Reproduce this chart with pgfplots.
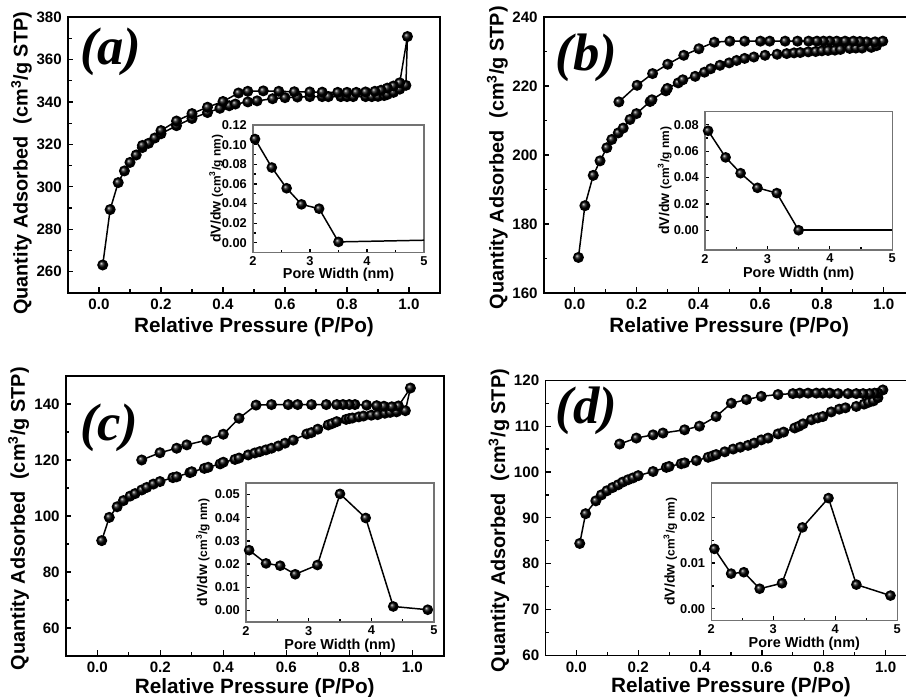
\documentclass[border=0pt]{standalone}
\usepackage{fontspec}
\setmainfont{Liberation Sans}[BoldFont={Liberation Sans Bold}]
\newfontfamily\panelfont{Liberation Serif}
\usepackage{pgfplots}
\pgfplotsset{compat=1.18}

\pgfplotsset{
  common/.style={
    scale only axis, anchor=south west, clip=false,
    tick pos=left, tick align=inside,
    scaled ticks=false,
    /pgf/number format/assume math mode=true,
    every tick/.style={black, line width=0.7pt},
  },
  mainax/.style={
    common,
    xmin=-0.1, xmax=1.1,
    xtick={0,0.2,...,1.0},
    minor x tick num=1, minor y tick num=1,
    major tick length=0.11cm, minor tick length=0.07cm,
    axis line style={line width=0.9pt},
    tick label style={font=\fontsize{8.6}{10}\selectfont\bfseries},
    xticklabel style={/pgf/number format/fixed, /pgf/number format/fixed zerofill, /pgf/number format/precision=1},
    xlabel={Relative Pressure (P/Po)},
    ylabel={Quantity Adsorbed\hspace{0.6em}(cm\textsuperscript{3}/g STP)},
    every axis x label/.style={at={(rel axis cs:0.5,-0.122)}, anchor=center, font=\fontsize{11.8}{12}\selectfont\bfseries},
    every axis y label/.style={at={(rel axis cs:-0.125,0.49)}, anchor=center, rotate=90, font=\fontsize{11.3}{12}\selectfont\bfseries},
  },
  inset/.style={
    common,
    xmin=2, xmax=5, xtick={2,3,4,5},
    minor x tick num=1, minor y tick num=1,
    major tick length=0.08cm, minor tick length=0.05cm,
    axis line style={line width=0.6pt, black!55},
    tick label style={font=\fontsize{7.3}{8}\selectfont\bfseries},
    xticklabel style={yshift=1.2pt},
    yticklabel style={/pgf/number format/fixed, /pgf/number format/fixed zerofill, /pgf/number format/precision=2},
    xlabel={Pore Width (nm)},
    ylabel={dV/dw {\fontsize{6.8}{7}\selectfont(cm\textsuperscript{3}/g nm)}},
    every axis x label/.style={at={(rel axis cs:0.5,-0.172)}, anchor=center, font=\fontsize{8.2}{9}\selectfont\bfseries},
  },
  iylab/.style={every axis y label/.style={at={(rel axis cs:#1,0.5)}, anchor=center, rotate=90, font=\fontsize{8}{9}\selectfont\bfseries}},
  iso/.style={black, line width=0.85pt, mark=ball, mark size=2.7pt, mark options={ball color=black}},
  psd/.style={black, line width=0.85pt, mark=ball, mark size=2.6pt, mark options={ball color=black}},
}

\begin{document}
\begin{tikzpicture}
\useasboundingbox (0,0) rectangle (18.12,13.94);

% ---------------- (a)
\begin{axis}[mainax, at={(1.36cm,8.08cm)}, width=7.44cm, height=5.52cm,
  ymin=250, ymax=380, ytick={260,280,...,380},
  every axis y label/.append style={at={(rel axis cs:-0.125,0.47)}}]
\addplot[iso] coordinates {
(0.012,263.2) (0.036,289.3) (0.062,302) (0.082,307.5) (0.10,311.5) (0.12,315)
(0.14,318.5) (0.16,320.5) (0.18,323) (0.20,325) (0.25,328.8) (0.30,332.2)
(0.35,335) (0.39,337) (0.42,338.2) (0.44,339) (0.48,340) (0.51,340.5)
(0.56,341.5) (0.60,342) (0.64,342.3) (0.68,342.5) (0.72,342.5) (0.74,342.5)
(0.78,342.5) (0.80,342.5) (0.82,342.5) (0.86,342.5) (0.88,342.5) (0.90,342.6)
(0.92,343) (0.93,343.5) (0.95,344.5) (0.97,346) (0.99,347.8) (0.995,370.8)
(0.97,349) (0.95,347.5) (0.93,346.5) (0.91,345.5) (0.89,345) (0.86,344.7)
(0.83,344.5) (0.80,344.5) (0.77,344.5) (0.72,344.6) (0.68,344.7) (0.63,344.8)
(0.58,345) (0.53,345.2) (0.48,345) (0.45,344.2) (0.40,340.2) (0.35,337.5)
(0.30,334.5) (0.25,331) (0.20,326.5) (0.14,319.5)};
\node[font=\panelfont\bfseries\itshape\fontsize{30}{30}\selectfont] at (rel axis cs:0.115,0.873) {(a)};
\end{axis}
\begin{axis}[inset, iylab=-0.215, at={(5.06cm,8.886cm)}, width=3.42cm, height=2.554cm,
  ymin=-0.01, ymax=0.12, ytick={0,0.02,...,0.12}]
\addplot[black, line width=0.85pt] coordinates {(3.50,0.001) (5,0.0027)};
\addplot[psd] coordinates {(2.035,0.1057) (2.33,0.0767) (2.59,0.0556) (2.85,0.0392) (3.16,0.0348) (3.50,0.001)};
\end{axis}

% ---------------- (b)
\begin{axis}[mainax, at={(10.876cm,8.08cm)}, width=7.416cm, height=5.52cm,
  ymin=160, ymax=240, ytick={160,180,...,240}]
\addplot[iso] coordinates {
(0.012,170.3) (0.033,185.3) (0.06,194.1) (0.082,198.3) (0.104,202.1) (0.12,204.5)
(0.141,206.4) (0.157,207.8) (0.179,210.3) (0.20,212) (0.244,215.5) (0.25,216)
(0.295,218.6) (0.30,219.3) (0.335,220.9) (0.35,221.8) (0.39,222.8) (0.42,224)
(0.44,225) (0.47,226) (0.50,226.7) (0.524,227.4) (0.55,228) (0.58,228.4)
(0.616,228.9) (0.655,229.2) (0.686,229.4) (0.71,229.6) (0.73,229.7) (0.756,229.9)
(0.78,230.0) (0.80,230.2) (0.82,230.3) (0.842,230.4) (0.86,230.6) (0.89,230.9)
(0.91,231) (0.93,231) (0.96,231.2) (0.977,231.7) (0.997,233)
(0.972,232.8) (0.945,232.8) (0.923,232.9) (0.902,233) (0.875,233) (0.848,233)
(0.825,233) (0.805,233) (0.784,233) (0.757,233) (0.721,233) (0.681,233)
(0.631,233) (0.601,233) (0.55,233) (0.502,233) (0.452,232.7) (0.402,230.8)
(0.353,228.9) (0.301,226.3) (0.252,223.6) (0.202,220.2) (0.143,215.4)};
\node[font=\panelfont\bfseries\itshape\fontsize{30}{30}\selectfont] at (rel axis cs:0.115,0.851) {(b)};
\end{axis}
\begin{axis}[inset, iylab=-0.215, at={(14.1cm,8.94cm)}, width=3.746cm, height=2.766cm,
  ymin=-0.015, ymax=0.09, ytick={0,0.02,...,0.08}]
\addplot[black, line width=0.85pt] coordinates {(3.50,0) (5,0)};
\addplot[psd] coordinates {(2.05,0.0755) (2.33,0.0553) (2.57,0.0433) (2.84,0.0322) (3.15,0.0282) (3.50,0.0)};
\end{axis}

% ---------------- (c)
\begin{axis}[mainax, at={(1.316cm,0.82cm)}, width=7.56cm, height=5.6cm,
  ymin=50, ymax=150, ytick={60,80,...,140},
  every axis x label/.append style={at={(rel axis cs:0.5,-0.114)}}]
\addplot[iso] coordinates {
(0.014,91.2) (0.038,99.5) (0.063,103.3) (0.083,105.5) (0.104,107.1) (0.12,108)
(0.141,109.3) (0.157,110.2) (0.178,111.4) (0.199,112.3) (0.24,113.7) (0.252,114.0)
(0.294,115.5) (0.30,115.8) (0.34,117) (0.352,117.4) (0.39,118.6) (0.40,119.2)
(0.437,120.2) (0.45,120.7) (0.479,121.8) (0.50,122.5) (0.516,123) (0.535,123.6)
(0.553,124.2) (0.575,125) (0.596,126) (0.622,127.1) (0.665,129.3) (0.68,129.8)
(0.70,131) (0.733,132.5) (0.745,133) (0.76,133.7) (0.79,134.5) (0.80,134.8)
(0.81,135) (0.83,135.4) (0.845,135.7) (0.87,136) (0.89,136.2) (0.913,136.7)
(0.93,137) (0.95,137.2) (0.978,137.6) (0.994,145.7)
(0.956,139.3) (0.935,139) (0.91,139.2) (0.887,139.4) (0.855,139.6) (0.818,139.8)
(0.80,139.8) (0.78,139.8) (0.76,139.8) (0.727,139.8) (0.68,139.8) (0.636,139.8)
(0.606,139.8) (0.553,139.8) (0.504,139.6) (0.45,134.9) (0.40,129.2) (0.347,127.1)
(0.284,125.4) (0.252,124.2) (0.199,122.6) (0.141,120)};
\node[font=\panelfont\bfseries\itshape\fontsize{30}{30}\selectfont] at (rel axis cs:0.115,0.814) {(c)};
\end{axis}
\begin{axis}[inset, iylab=-0.23, at={(4.92cm,1.5cm)}, width=3.76cm, height=2.78cm,
  ymin=-0.005, ymax=0.055, ytick={0,0.01,...,0.05}]
\addplot[psd] coordinates {(2.05,0.026) (2.32,0.0203) (2.545,0.0193) (2.785,0.0156) (3.14,0.0196) (3.50,0.0503) (3.91,0.0399) (4.35,0.0017) (4.90,0.0003)};
\end{axis}

% ---------------- (d)
\begin{axis}[mainax, at={(10.908cm,0.834cm)}, width=7.424cm, height=5.5cm,
  ymin=60, ymax=120, ytick={60,70,...,120},
  every axis x label/.append style={at={(rel axis cs:0.5,-0.114)}}]
\addplot[iso] coordinates {
(0.011,84.4) (0.03,90.9) (0.063,93.7) (0.081,95.0) (0.099,95.9) (0.117,96.6)
(0.135,97.2) (0.15,97.8) (0.167,98.3) (0.183,98.7) (0.20,99.2) (0.248,100.1)
(0.291,101.0) (0.30,101.2) (0.339,101.8) (0.35,102.0) (0.388,102.5) (0.426,103.2)
(0.44,103.5) (0.452,103.8) (0.48,104.4) (0.507,105) (0.53,105.4) (0.555,105.8)
(0.575,106.3) (0.598,107) (0.62,107.4) (0.652,108.3) (0.67,108.7) (0.706,109.6)
(0.72,110) (0.733,110.5) (0.76,111.4) (0.78,111.8) (0.797,112.1) (0.824,113.1)
(0.85,113.7) (0.87,114) (0.905,114.3) (0.93,114.8) (0.945,115.2) (0.96,115.5)
(0.975,116.2) (0.991,117.9)
(0.975,117.2) (0.964,117.2) (0.948,117.1) (0.927,117.1) (0.905,117.1) (0.878,117.1)
(0.846,117.1) (0.819,117.2) (0.797,117.2) (0.776,117.2) (0.749,117.2) (0.722,117.2)
(0.70,117.1) (0.652,116.9) (0.598,116.5) (0.55,115.8) (0.501,115.0) (0.452,112.1)
(0.398,110.0) (0.35,109.2) (0.28,108.5) (0.248,108.1) (0.194,107.4) (0.14,106.1)};
\node[font=\panelfont\bfseries\itshape\fontsize{30}{30}\selectfont] at (rel axis cs:0.11,0.888) {(d)};
\end{axis}
\begin{axis}[inset, iylab=-0.22, at={(14.226cm,1.534cm)}, width=3.72cm, height=2.746cm,
  ymin=-0.0025, ymax=0.0275, ytick={0,0.01,0.02}]
\addplot[psd] coordinates {(2.05,0.0131) (2.32,0.0077) (2.525,0.0080) (2.78,0.0044) (3.14,0.0056) (3.47,0.0178) (3.89,0.0242) (4.34,0.0053) (4.89,0.0029)};
\end{axis}
\end{tikzpicture}
\end{document}
